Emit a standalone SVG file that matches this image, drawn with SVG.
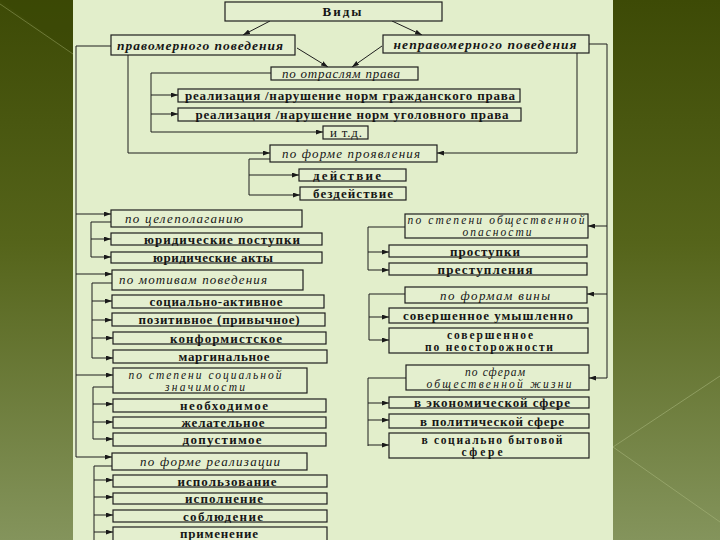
<svg xmlns="http://www.w3.org/2000/svg" width="720" height="540" viewBox="0 0 720 540">
<defs>
<linearGradient id="bg" x1="0" y1="0" x2="0" y2="1">
<stop offset="0" stop-color="#3d4a06"/>
<stop offset="0.45" stop-color="#55641a"/>
<stop offset="1" stop-color="#84945c"/>
</linearGradient>
<marker id="ar" viewBox="0 0 7 5" refX="7" refY="2.5" markerWidth="7" markerHeight="5" markerUnits="userSpaceOnUse" orient="auto">
<path d="M0,0 L7,2.5 L0,5 z" fill="#1a1a1a"/>
</marker>
<style>
.bx{fill:#e4efcf;stroke:#1e1e1e;stroke-width:1.2}
.ln{fill:none;stroke:#1e1e1e;stroke-width:1}
.ar{fill:none;stroke:#1e1e1e;stroke-width:1;marker-end:url(#ar)}
text{font-family:"Liberation Serif","DejaVu Serif",serif;font-size:13px;fill:#161616;text-anchor:middle}
.t{font-weight:bold}
.h{font-style:italic}
.hb{font-style:italic;font-weight:bold;font-size:13.5px}
.s{font-size:11.5px}
</style>
</defs>
<rect x="0" y="0" width="720" height="540" fill="url(#bg)"/>
<path d="M0,0 L73,0 L73,54 Z" fill="#3a4705" opacity="0.6"/>
<line x1="0" y1="4" x2="73" y2="54" stroke="#8c9858" stroke-width="1" opacity="0.6"/>
<line x1="613" y1="447" x2="720" y2="376" stroke="#a6b47a" stroke-width="1" opacity="0.6"/>
<line x1="613" y1="447" x2="720" y2="522" stroke="#a6b47a" stroke-width="1" opacity="0.6"/>
<rect x="73" y="0" width="540" height="540" fill="#e2eecb"/>

<g id="connectors">
<line class="ar" x1="270" y1="21" x2="243" y2="35"/>
<line class="ar" x1="392" y1="21" x2="422" y2="35"/>
<line class="ar" x1="297" y1="48" x2="328" y2="67"/>
<line class="ar" x1="382" y1="46" x2="352" y2="67"/>
<polyline class="ln" points="271,73 151,73 151,132"/>
<line class="ar" x1="151" y1="95" x2="178" y2="95"/>
<line class="ar" x1="151" y1="114" x2="178" y2="114"/>
<line class="ar" x1="151" y1="132" x2="323" y2="132"/>
<polyline class="ar" points="128,55 128,153 270,153"/>
<polyline class="ar" points="577,53 577,153 437,153"/>
<polyline class="ln" points="270,159 249,159 249,195"/>
<line class="ar" x1="249" y1="175" x2="299" y2="175"/>
<line class="ar" x1="249" y1="195" x2="300" y2="195"/>
<polyline class="ln" points="111,46 76,46 76,457"/>
<line class="ar" x1="76" y1="214" x2="111" y2="214"/>
<line class="ar" x1="76" y1="274" x2="112" y2="274"/>
<line class="ar" x1="76" y1="375" x2="113" y2="375"/>
<line class="ar" x1="76" y1="457" x2="112" y2="457"/>
<polyline class="ln" points="111,222 91,222 91,257"/>
<line class="ar" x1="91" y1="239" x2="111" y2="239"/>
<line class="ar" x1="91" y1="257" x2="111" y2="257"/>
<polyline class="ln" points="112,283 92,283 92,358"/>
<line class="ar" x1="92" y1="301" x2="112" y2="301"/>
<line class="ar" x1="92" y1="320" x2="112" y2="320"/>
<line class="ar" x1="92" y1="338" x2="113" y2="338"/>
<line class="ar" x1="92" y1="358" x2="113" y2="358"/>
<polyline class="ln" points="113,387 93,387 93,439"/>
<line class="ar" x1="93" y1="404" x2="113" y2="404"/>
<line class="ar" x1="93" y1="422" x2="113" y2="422"/>
<line class="ar" x1="93" y1="439" x2="113" y2="439"/>
<polyline class="ln" points="112,466 94,466 94,540"/>
<line class="ar" x1="94" y1="480" x2="113" y2="480"/>
<line class="ar" x1="94" y1="497" x2="113" y2="497"/>
<line class="ar" x1="94" y1="515" x2="113" y2="515"/>
<line class="ar" x1="94" y1="532" x2="113" y2="532"/>
<polyline class="ln" points="589,44 607,44 607,378"/>
<line class="ar" x1="607" y1="226" x2="588" y2="226"/>
<line class="ar" x1="607" y1="294" x2="587" y2="294"/>
<line class="ar" x1="607" y1="378" x2="589" y2="378"/>
<polyline class="ln" points="405,227 368,227 368,270"/>
<line class="ar" x1="368" y1="252" x2="389" y2="252"/>
<line class="ar" x1="368" y1="270" x2="389" y2="270"/>
<polyline class="ln" points="405,294 369,294 369,340"/>
<line class="ar" x1="369" y1="317" x2="389" y2="317"/>
<line class="ar" x1="369" y1="340" x2="389" y2="340"/>
<polyline class="ln" points="406,378 368,378 368,446"/>
<line class="ar" x1="368" y1="403" x2="389" y2="403"/>
<line class="ar" x1="368" y1="420" x2="389" y2="420"/>
<line class="ar" x1="368" y1="445" x2="389" y2="445"/>
</g>

<g id="n-vidy"><rect class="bx" x="225" y="2" width="217" height="19"/><text class="t" x="342" y="16" textLength="39">Виды</text></g>
<g id="n-prav"><rect class="bx" x="111" y="35" width="184" height="20"/><text class="hb" x="200" y="49.5" textLength="166">правомерного поведения</text></g>
<g id="n-neprav"><rect class="bx" x="383" y="35" width="206" height="18"/><text class="hb" x="485" y="48.5" textLength="183">неправомерного поведения</text></g>
<g id="n-otrasl"><rect class="bx" x="271" y="67" width="147" height="13"/><text class="h" x="341" y="78" textLength="118">по отраслям права</text></g>
<g id="n-grazhd"><rect class="bx" x="178" y="89" width="342" height="13"/><text class="t" x="350" y="100" textLength="330">реализация /нарушение норм гражданского права</text></g>
<g id="n-ugol"><rect class="bx" x="178" y="108" width="343" height="13"/><text class="t" x="352" y="119" textLength="313">реализация /нарушение норм уголовного права</text></g>
<g id="n-itd"><rect class="bx" x="323" y="126" width="45" height="13"/><text x="346" y="137" textLength="32">и т.д.</text></g>
<g id="n-proyav"><rect class="bx" x="270" y="145" width="167" height="17"/><text class="h" x="351" y="158" textLength="138">по форме проявления</text></g>
<g id="n-deistv"><rect class="bx" x="299" y="169" width="107" height="12"/><text class="t" x="347" y="179.5" textLength="68">действие</text></g>
<g id="n-bezdeistv"><rect class="bx" x="300" y="187" width="106" height="13"/><text class="t" x="353" y="198" textLength="80">бездействие</text></g>

<g id="n-celepol"><rect class="bx" x="111" y="210" width="191" height="17"/><text class="h" x="184" y="223" textLength="118">по целеполаганию</text></g>
<g id="n-postupki"><rect class="bx" x="111" y="233" width="211" height="12"/><text class="t" x="222" y="243.5" textLength="156">юридические поступки</text></g>
<g id="n-akty"><rect class="bx" x="111" y="252" width="211" height="11"/><text class="t" x="213" y="262" textLength="120">юридические акты</text></g>
<g id="n-motiv"><rect class="bx" x="112" y="270" width="191" height="20"/><text class="h" x="193" y="283.5" textLength="148">по мотивам поведения</text></g>
<g id="n-socakt"><rect class="bx" x="112" y="295" width="212" height="13"/><text class="t" x="216" y="306" textLength="133">социально-активное</text></g>
<g id="n-pozit"><rect class="bx" x="112" y="313" width="213" height="13"/><text class="t" x="219" y="324" textLength="161">позитивное (привычное)</text></g>
<g id="n-konf"><rect class="bx" x="113" y="332" width="213" height="12"/><text class="t" x="226" y="342.5" textLength="112">конформистское</text></g>
<g id="n-marg"><rect class="bx" x="113" y="350" width="214" height="13"/><text class="t" x="224" y="361" textLength="91">маргинальное</text></g>
<g id="n-znach"><rect class="bx" x="113" y="368" width="194" height="25"/><text class="h s" x="205" y="378.5" textLength="153">по степени социальной</text><text class="h s" x="205" y="390.5" textLength="80">значимости</text></g>
<g id="n-neobh"><rect class="bx" x="113" y="399" width="213" height="13"/><text class="t" x="224" y="410" textLength="88">необходимое</text></g>
<g id="n-zhel"><rect class="bx" x="113" y="417" width="213" height="11"/><text class="t" x="223" y="427" textLength="83">желательное</text></g>
<g id="n-dopust"><rect class="bx" x="113" y="433" width="213" height="13"/><text class="t" x="222" y="444" textLength="79">допустимое</text></g>
<g id="n-realiz"><rect class="bx" x="112" y="453" width="195" height="17"/><text class="h" x="210" y="466" textLength="140">по форме реализации</text></g>
<g id="n-ispolz"><rect class="bx" x="113" y="475" width="214" height="12"/><text class="t" x="227" y="485.5" textLength="99">использование</text></g>
<g id="n-ispoln"><rect class="bx" x="113" y="493" width="214" height="11"/><text class="t" x="224" y="503" textLength="78">исполнение</text></g>
<g id="n-soblyud"><rect class="bx" x="113" y="510" width="214" height="12"/><text class="t" x="223" y="520.5" textLength="80">соблюдение</text></g>
<g id="n-primen"><rect class="bx" x="113" y="527" width="214" height="14"/><text class="t" x="219" y="538" textLength="78">применение</text></g>

<g id="n-opasn"><rect class="bx" x="405" y="214" width="183" height="24"/><text class="h s" x="496" y="224" textLength="177">по степени общественной</text><text class="h s" x="497" y="236" textLength="69">опасности</text></g>
<g id="n-prostupki"><rect class="bx" x="389" y="245" width="198" height="12"/><text class="t" x="485" y="255.5" textLength="70">проступки</text></g>
<g id="n-prestupl"><rect class="bx" x="389" y="263" width="198" height="12"/><text class="t" x="485" y="273.5" textLength="95">преступления</text></g>
<g id="n-viny"><rect class="bx" x="405" y="287" width="182" height="16"/><text class="h" x="495" y="299.5" textLength="110">по формам вины</text></g>
<g id="n-umysh"><rect class="bx" x="389" y="308" width="199" height="15"/><text class="t" x="488" y="320" textLength="170">совершенное умышленно</text></g>
<g id="n-neostor"><rect class="bx" x="389" y="328" width="199" height="25"/><text class="t s" x="490" y="338.5" textLength="86">совершенное</text><text class="t s" x="489" y="350.5" textLength="128">по неосторожности</text></g>
<g id="n-sfery"><rect class="bx" x="406" y="365" width="183" height="25"/><text class="h s" x="495" y="375.5" textLength="60">по сферам</text><text class="h s" x="499" y="387.5" textLength="145">общественной жизни</text></g>
<g id="n-ekon"><rect class="bx" x="389" y="397" width="200" height="11"/><text class="t" x="492" y="407" textLength="156">в экономической сфере</text></g>
<g id="n-polit"><rect class="bx" x="389" y="414" width="200" height="14"/><text class="t" x="492" y="425.5" textLength="144">в политической сфере</text></g>
<g id="n-socbyt"><rect class="bx" x="389" y="433" width="200" height="25"/><text class="t s" x="492" y="443.5" textLength="141">в социально бытовой</text><text class="t s" x="482" y="455.5" textLength="41">сфере</text></g>
</svg>
